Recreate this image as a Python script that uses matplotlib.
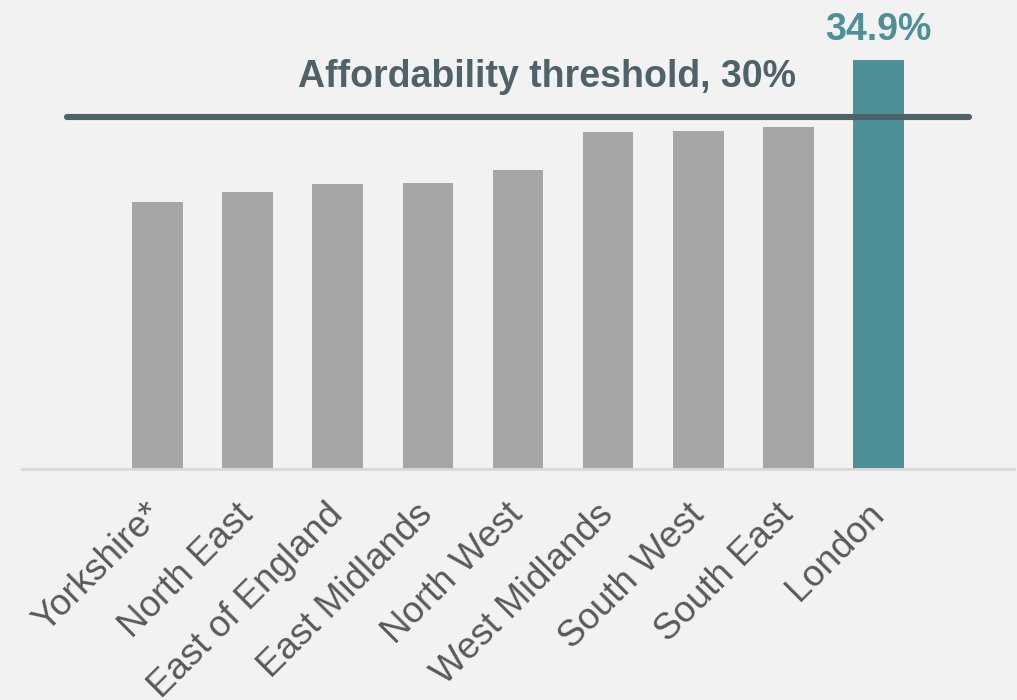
import matplotlib
matplotlib.use("Agg")
import matplotlib.pyplot as plt

plt.rcParams['font.family'] = ['Liberation Sans', 'DejaVu Sans']

regions = ["Yorkshire*", "North East", "East of England", "East Midlands",
           "North West", "West Midlands", "South West", "South East", "London"]
values = [22.8, 23.6, 24.3, 24.4, 25.5, 28.7, 28.8, 29.2, 34.9]
threshold = 30
threshold_label = "Affordability threshold, 30%"
highlight = "London"

bg = "#f2f2f2"
fig = plt.figure(figsize=(10.17, 7.0), dpi=100, facecolor=bg)
ax = fig.add_axes([22/1017, 1 - 469/700, (1014 - 22)/1017, 469/700])
ax.set_facecolor(bg)

x = list(range(len(regions)))
colors = ["#4f8f98" if r == highlight else "#a6a6a6" for r in regions]
ax.bar(x, values, width=0.56, color=colors, zorder=2)

ax.plot([-1, 9], [threshold, threshold], color="#4d6369", lw=4.4,
        solid_capstyle="round", zorder=3)
ax.text(4.32, 32.6, threshold_label, ha="center", va="baseline",
        fontsize=27, fontweight="bold", color="#4f6269")

hi = regions.index(highlight)
ax.text(hi, 36.6, f"{values[hi]:.1f}%", ha="center", va="baseline",
        fontsize=27, fontweight="bold", color="#4f8f98")

ax.set_xlim(-1.5, 9.5)
ax.set_ylim(0, 40)
for s in ["top", "right", "left"]:
    ax.spines[s].set_visible(False)
ax.spines["bottom"].set_color("#d9d9d9")
ax.spines["bottom"].set_linewidth(2)
ax.set_yticks([])
ax.set_xticks(x)
ax.set_xticklabels(regions, rotation=45, ha="right", rotation_mode="anchor",
                   va="center", fontsize=26.5, color="#595959")
ax.tick_params(axis="x", length=0, pad=29)

fig.savefig("out.png", dpi=100, facecolor=bg)
